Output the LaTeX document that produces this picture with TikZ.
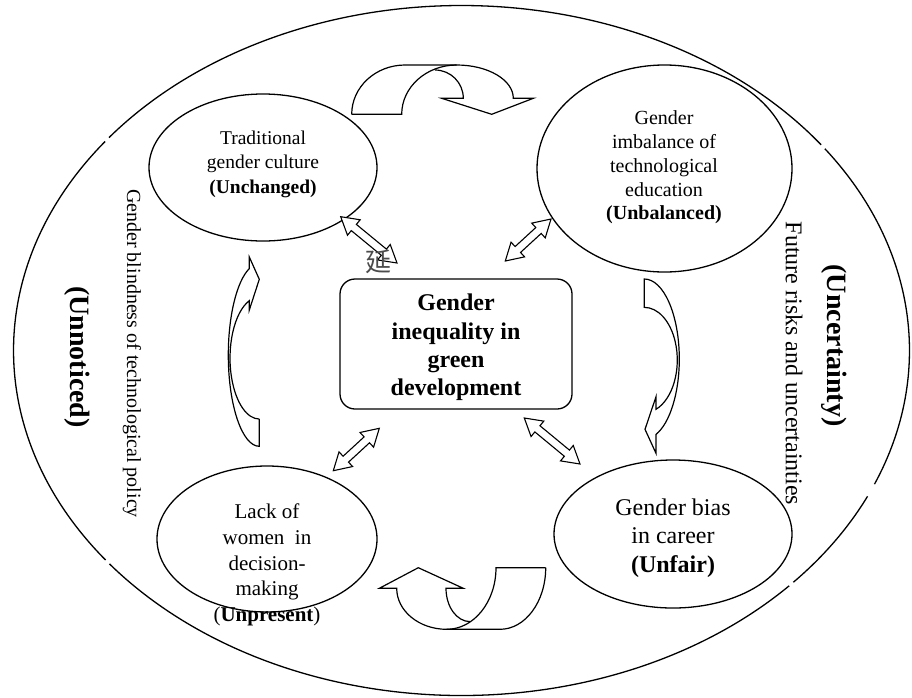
\documentclass[tikz,border=0pt]{standalone}
\usepackage{fontspec}
\setmainfont{Liberation Serif}
\newfontfamily\cjkfont{Noto Sans CJK SC}
\usetikzlibrary{shapes.geometric,calc}
\newcommand\DAr[2]{%
  \draw[dbl] (#1)
    -- ($(#1)!17pt!(#2)!10pt!90:(#2)$)
    -- ($(#1)!17pt!(#2)!4pt!90:(#2)$)
    -- ($(#2)!17pt!(#1)!4pt!-90:(#1)$)
    -- ($(#2)!17pt!(#1)!10pt!-90:(#1)$)
    -- (#2)
    -- ($(#2)!17pt!(#1)!10pt!90:(#1)$)
    -- ($(#2)!17pt!(#1)!4pt!90:(#1)$)
    -- ($(#1)!17pt!(#2)!4pt!-90:(#2)$)
    -- ($(#1)!17pt!(#2)!10pt!-90:(#2)$)
    -- cycle;}
\begin{document}
\begin{tikzpicture}[x=1pt,y=1pt,yscale=-1,
  line/.style={line width=1.3pt},
  bub/.style={draw, ellipse, line width=1.3pt, inner sep=0pt},
  lbl/.style={align=center, inner sep=0pt},
  dbl/.style={line width=1.1pt, line join=miter, fill=white},
  blk/.style={line width=1.2pt, line join=miter}]
\useasboundingbox (0,0) rectangle (912,697);

% outer ellipse (with small breaks)
\coordinate (oc) at (461.5,350.5);
\foreach \a/\b in {25/42.2, 43/141.8, 142.6/217.3, 218.1/323.4, 324.2/382.8}
  \draw[line] ($(oc)+(\a:448pt and 345pt)$) arc[start angle=\a, end angle=\b, x radius=448pt, y radius=345pt];

% ellipses and centre box
\node[bub, minimum width=228pt, minimum height=147pt] (tgc) at (263,167.5) {};
\node[bub, minimum width=255pt, minimum height=207pt] (gie) at (664.5,168.5) {};
\node[bub, minimum width=220pt, minimum height=146pt] (lwd) at (267,539) {};
\node[bub, minimum width=238pt, minimum height=148pt] (gbc) at (673,534) {};
\node[draw, line width=1.3pt, rounded corners=15pt, minimum width=232pt, minimum height=130pt, inner sep=0pt] (ctr) at (456,344) {};

% texts
\node[lbl, font=\fontsize{19.5}{24.5}\selectfont] (tgct) at (263,164) {Traditional\\gender culture\\\textbf{(Unchanged)}};
\node[lbl, font=\fontsize{20}{23.8}\selectfont] (giet) at (664,167.5) {Gender\\imbalance of\\technological\\education\\\textbf{(Unbalanced)}};
\node[lbl, font=\fontsize{21}{25.7}\selectfont] (lwdt) at (267,565) {Lack of\\women\ \ in\\decision-\\making\\(\textbf{Unpresent})};
\node[lbl, font=\fontsize{24}{28.5}\selectfont] (gbct) at (673,538) {Gender bias\\in career\\\textbf{(Unfair)}};
\node[lbl, font=\bfseries\fontsize{24}{28.2}\selectfont] (ctrt) at (456,347.5) {Gender\\inequality in\\green\\development};

\node[lbl, rotate=-90, font=\fontsize{20}{24}\selectfont] (gbp) at (132,353.5) {Gender blindness of technological policy};
\node[lbl, rotate=-90, font=\bfseries\fontsize{28}{32}\selectfont] (unn) at (77,357) {(Unnoticed)};
\node[lbl, rotate=-90, font=\fontsize{24}{28}\selectfont] (fru) at (794,363.5) {Future risks and uncertainties};
\node[lbl, rotate=-90, font=\bfseries\fontsize{28}{32}\selectfont] (unc) at (834,345.5) {(Uncertainty)};

% double arrows
\coordinate (d1a) at (340.7,216.7); \coordinate (d1b) at (397,263);
\coordinate (d2a) at (551,219);     \coordinate (d2b) at (505.3,261);
\coordinate (d3a) at (379.3,428.3); \coordinate (d3b) at (333.3,470.7);
\coordinate (d4a) at (524.3,418);   \coordinate (d4b) at (580,464);
\DAr{d1a}{d1b}
\DAr{d2a}{d2b}
\DAr{d3a}{d3b}
\DAr{d4a}{d4b}

\node[inner sep=0pt, font=\cjkfont\fontsize{26}{26}\selectfont, text=black!70] (yan) at (378,262) {延};

% top curved arrow
\draw[blk] (351.7,114.3) arc[start angle=180, end angle=270, x radius=53.3pt, y radius=49.3pt]
  -- (456.7,65) arc[start angle=270, end angle=360, x radius=56.6pt, y radius=33.3pt]
  -- (533.3,98.3) -- (491.7,114.3) -- (441.7,98.3) -- (463.3,98.3)
  arc[start angle=360, end angle=270, x radius=28.3pt, y radius=28.3pt];
\draw[blk] (351.7,114.3) -- (401.7,114.3)
  arc[start angle=180, end angle=270, x radius=55pt, y radius=49.3pt];

% bottom curved arrow
\draw[blk] (545.7,567.7) arc[start angle=0, end angle=90, x radius=45.7pt, y radius=61.6pt]
  -- (446.7,629.3) arc[start angle=90, end angle=180, x radius=50pt, y radius=41pt]
  -- (379.3,588.3) -- (418.3,567.7) -- (463.3,588.3) -- (446,588.3)
  arc[start angle=180, end angle=90, x radius=24pt, y radius=33.3pt];
\draw[blk] (545.7,567.7) -- (496,567.7)
  arc[start angle=0, end angle=90, x radius=49.3pt, y radius=61.6pt];

% right curved arrow
\draw[blk] (644.3,279) arc[start angle=-90, end angle=70.5, x radius=35pt, y radius=80pt]
  -- (656,453.3) -- (645,429.3) -- (656,396.7) -- (656,409.3)
  arc[start angle=69.2, end angle=-90, x radius=33pt, y radius=52.7pt] -- cycle;

% left curved arrow
\draw[blk] (259.3,419) -- (259.3,446.3)
  arc[start angle=90, end angle=251, x radius=31pt, y radius=91.3pt]
  -- (249.3,257) -- (259.3,279.3) -- (249.3,310) -- (249.3,300.7)
  arc[start angle=250, end angle=90, x radius=29.3pt, y radius=61pt];
\end{tikzpicture}
\end{document}
